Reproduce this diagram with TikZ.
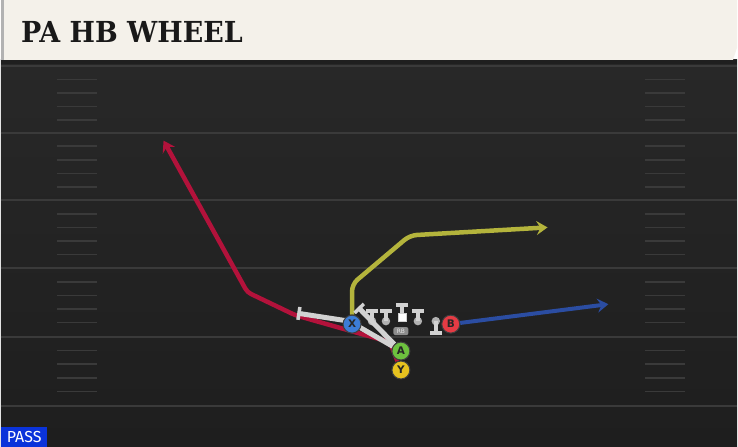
\documentclass[tikz,border=0pt]{standalone}
\usepackage{fontspec}
\usepackage{xcolor}
\usepackage{tikz}
\usetikzlibrary{shapes,arrows,positioning,calc,arrows.meta}
\newfontfamily\titlefont{DejaVu Serif}[FakeStretch=0.93]
\newfontfamily\tagfont{Fira Sans}
\newfontfamily\playerfont{DejaVu Sans}
\definecolor{headbg}{HTML}{F4F1EA}
\definecolor{fieldtop}{HTML}{282828}
\definecolor{fieldbot}{HTML}{1E1E1E}
\definecolor{yardline}{HTML}{3A3A3A}
\definecolor{routered}{HTML}{B3123B}
\definecolor{routeyellow}{HTML}{B4B43C}
\definecolor{routeblue}{HTML}{2B4DA2}
\definecolor{blockgrey}{HTML}{D2D2D2}
\definecolor{passblue}{HTML}{0A33DA}
\definecolor{xblue}{HTML}{3C7DD6}
\definecolor{agreen}{HTML}{6DC13E}
\definecolor{yyellow}{HTML}{E7C21F}
\definecolor{bred}{HTML}{E53B44}
\pgfdeclarelayer{field}
\pgfdeclarelayer{routes}
\pgfsetlayers{field,routes,main}

\begin{document}
\begin{tikzpicture}[x=1pt, y=-1pt,
    route/.style={line width=4.5pt, rounded corners=4pt, -{Stealth[length=11pt,width=14pt,inset=4pt]}},
    block/.style={draw=blockgrey, line width=5pt, -{Bar[width=13pt,line width=3.5pt]}},
    tman/.style={draw=blockgrey, line width=3.5pt, -{Bar[width=12pt,line width=4pt]}},
    lineman/.style={circle, fill=blockgrey!85!black, minimum size=8.5pt, inner sep=0pt},
    player/.style={circle, draw=black!75, line width=1pt, minimum size=18pt, inner sep=0pt, font=\playerfont\bfseries\fontsize{10.5}{10.5}\selectfont, text=black!85},
    hash/.style={draw=yardline, line width=1.5pt},
    yard/.style={draw=yardline, line width=2pt}]
    % Players
    \node[player, fill=xblue] (X) at (352,325) {X};
    \node[player, fill=agreen] (A) at (401,352) {A};
    \node[player, fill=yyellow] (Y) at (401,371) {Y};
    \node[player, fill=bred] (B) at (451,325) {B};

    % Field and header
    \begin{pgfonlayer}{field}
    \shade[top color=fieldtop, bottom color=fieldbot] (0,60) rectangle (738,448);
    \fill[black!88] (0,60) rectangle (738,64);
    \fill[headbg] (0,0) -- (738,0) -- (738,48) -- (734,60) -- (0,60) -- cycle;
    \fill[black!30] (0,0) rectangle (3,60);
    \node[anchor=base west, inner sep=0pt, text=black!90, font=\titlefont\bfseries\fontsize{29}{29}\selectfont] (title) at (20,43) {PA HB WHEEL};

    % Yard lines and hash marks
    \foreach \yl in {66,133,201,269,338,407}
        \draw[yard] (0,\yl) -- (738,\yl);
    \foreach \yl in {66,133,201,269,338}
        \foreach \k in {1,...,4} {
            \draw[hash] (56,{\yl+13.6*\k}) -- (96,{\yl+13.6*\k});
            \draw[hash] (646,{\yl+13.6*\k}) -- (686,{\yl+13.6*\k});
        }

    % Play type
    \node[anchor=south west, fill=passblue, text=white, minimum width=46pt, minimum height=20pt, inner sep=0pt, font=\tagfont\fontsize{16}{16}\selectfont] (kind) at (0,448) {PASS};
    \end{pgfonlayer}

    % Route points
    \coordinate (r1) at (390,343);
    \coordinate (r2) at (295,316);
    \coordinate (r3) at (247,293);
    \coordinate (r4) at (163,141);
    \coordinate (y1) at (352,285);
    \coordinate (y2) at (410,236);
    \coordinate (y3) at (548,228);
    \coordinate (b1) at (609,305);
    \coordinate (g1) at (349,322);
    \coordinate (g2) at (297,314);
    \coordinate (g3) at (358,308);

    \begin{pgfonlayer}{routes}
    % Routes
    \draw[route, routered] (Y) -- (r1) -- (r2) -- (r3) -- (r4);
    \draw[route, routeyellow, rounded corners=7pt] (X) -- (y1) -- (y2) -- (y3);
    \draw[route, routeblue, line width=4pt] (B) -- (b1);

    % Line
    \node[lineman] (lt) at (372,322) {};
    \node[lineman] (lg) at (386,322) {};
    \node[lineman] (rg) at (418,322) {};
    \node[lineman] (te) at (436,322) {};
    \node[rectangle, fill=white, draw=blockgrey, minimum size=8pt, inner sep=0pt] (ctr) at (402,318) {};
    \draw[tman] (lt.center) -- ++(0,-12);
    \draw[tman] (lg.center) -- ++(0,-12);
    \draw[tman] (rg.center) -- ++(0,-12);
    \draw[tman] (ctr.north) -- ++(0,-10);
    \draw[tman] (te.center) -- ++(0,14);

    % Blocks
    \draw[block] (A) -- (g1) -- (g2);
    \draw[block] (A) -- (g3);
    \node[rectangle, rounded corners=2pt, fill=black!45, text=black!10, minimum width=15pt, minimum height=8pt, inner sep=0pt, font=\playerfont\fontsize{6}{6}\selectfont] (rb) at (401,332) {RB};
    \end{pgfonlayer}

    \useasboundingbox (0,0) rectangle (738,448);
\end{tikzpicture}
\end{document}
